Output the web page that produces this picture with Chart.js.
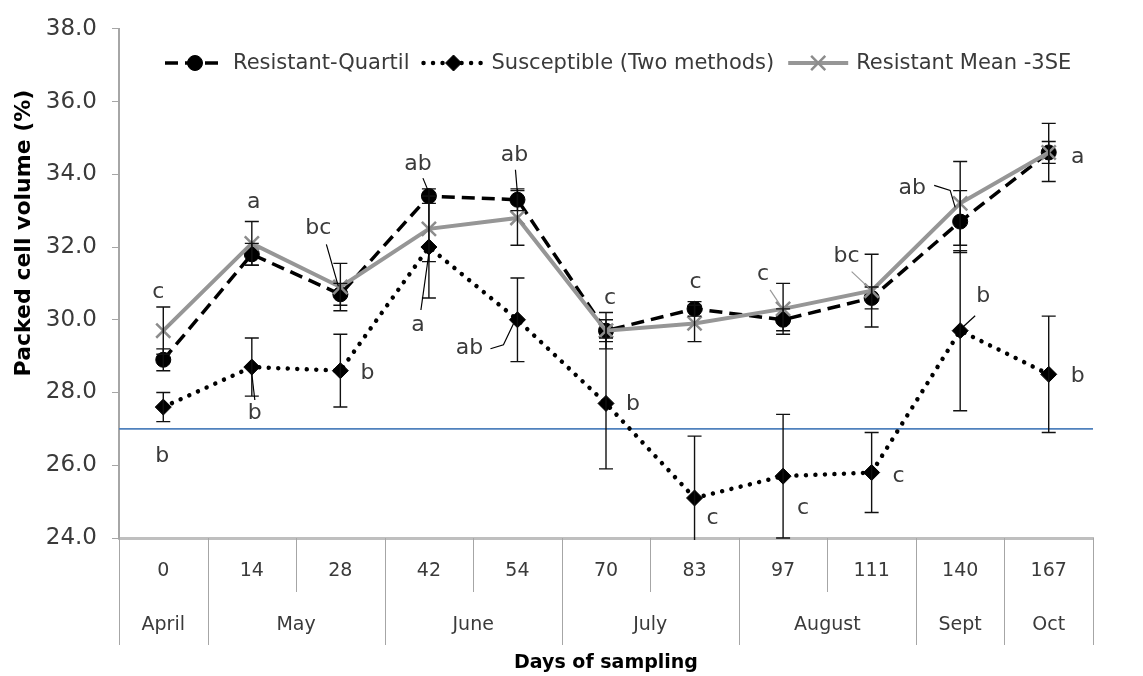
<!DOCTYPE html>
<html>
<head>
<meta charset="utf-8">
<script src="https://cdn.jsdelivr.net/npm/chart.js@4.4.1/dist/chart.umd.min.js"></script>
<style>
  html, body { margin: 0; padding: 0; background: #fff; }
  #wrap { width: 1143px; height: 676px; position: relative; }
</style>
</head>
<body>
<div id="wrap"><canvas id="pcvChart" width="1143" height="676"></canvas></div>
<script>
// Days of sampling and the month each sample falls in
const days = ['0', '14', '28', '42', '54', '70', '83', '97', '111', '140', '167'];
const months = ['April', 'May', 'June', 'July', 'August', 'Sept', 'Oct'];
const monthSpan = [1, 2, 2, 2, 2, 1, 1];

// Packed cell volume (%) per group
const resistantQuartil = [28.9, 31.8, 30.7, 33.4, 33.3, 29.7, 30.3, 30.0, 30.6, 32.7, 34.6];
const susceptible      = [27.6, 28.7, 28.6, 32.0, 30.0, 27.7, 25.1, 25.7, 25.8, 29.7, 28.5];
const resistantMean3SE = [29.7, 32.1, 30.9, 32.5, 32.8, 29.7, 29.9, 30.3, 30.8, 33.2, 34.6];

// Standard errors (drawn as +/- bars)
const quartilErr     = [0.3, 0.3, 0.3, 0.2, 0.3, 0.3, 0.2, 0.3, 0.3, 0.85, 0.3];
const susceptibleErr = [0.4, 0.8, 1.0, 1.4, 1.15, 1.8, 1.7, 1.7, 1.1, 2.2, 1.6];
const meanErr        = [0.65, 0.6, 0.65, 0.9, 0.75, 0.5, 0.5, 0.7, 1.0, 1.15, 0.8];

// Significance letters for each group
const quartilLetters     = ['c', 'a', 'bc', 'ab', 'ab', 'c', 'c', 'c', 'bc', 'ab', 'a'];
const susceptibleLetters = ['b', 'b', 'b', 'a', 'ab', 'b', 'c', 'c', 'c', 'b', 'b'];

// Threshold line
const threshold = 27.0;

const FONT = "'DejaVu Sans', 'Noto Sans', sans-serif";
const TEXT = '#3a3a3a';

// where each letter sits relative to its point: [dataset, dx, dy, leader, leaderColor]
const upperPlace = [
    [2, -5, -38], [2, 2, -41], [0, -22, -66, [-14, -50, -2, -8]], [0, -11, -32, [-6, -18, -1, -6]],
    [0, -3, -44, [-2, -30, 0, -6]], [0, 4, -32], [0, 1, -27], [2, -20, -35, [-13, -19, -3, -4], '#999'],
    [2, -25, -34, [-20, -19, -3, -3], '#999'], [2, -48, -15, [-26, -18, -10, -13, -5, 4]], [0, 29, 5]
];
const lowerPlace = [
    [-1, 49], [3, 46, [0, 7, 3, 33]], [27, 3], [-11, 78, [0, 6, -8, 63]], [-48, 29, [-27, 29, -14, 25, -4, 4]],
    [27, 1], [18, 20], [20, 32], [27, 4], [23, -34, [15, -15, 3, -4]], [29, 2]
];

function drawLeader(ctx, x, y, pts, color) {
    ctx.save();
    ctx.strokeStyle = color || '#000';
    ctx.lineWidth = 1.2;
    ctx.beginPath();
    ctx.moveTo(x + pts[0], y + pts[1]);
    for (let i = 2; i < pts.length; i += 2) ctx.lineTo(x + pts[i], y + pts[i + 1]);
    ctx.stroke();
    ctx.restore();
}

const extrasPlugin = {
    id: 'extras',
    beforeDatasetsDraw(chart) {
        const { ctx, chartArea, scales } = chart;
        // threshold line
        const y = scales.y.getPixelForValue(threshold);
        ctx.save();
        ctx.strokeStyle = '#4f81bd';
        ctx.lineWidth = 1.6;
        ctx.beginPath();
        ctx.moveTo(chartArea.left, y);
        ctx.lineTo(chartArea.right, y);
        ctx.stroke();
        ctx.restore();
    },
    afterDatasetsDraw(chart) {
        const { ctx, chartArea, scales } = chart;
        // error bars
        ctx.save();
        ctx.beginPath();
        ctx.rect(chartArea.left, chartArea.top, chartArea.right - chartArea.left, chartArea.bottom - chartArea.top + 2);
        ctx.clip();
        ctx.strokeStyle = '#111';
        ctx.lineWidth = 1.4;
        chart.data.datasets.forEach(ds => {
            ds.data.forEach((v, i) => {
                const x = scales.x.getPixelForValue(i);
                const yHi = scales.y.getPixelForValue(v + ds.errors[i]);
                const yLo = scales.y.getPixelForValue(v - ds.errors[i]);
                ctx.beginPath();
                ctx.moveTo(x, yHi); ctx.lineTo(x, yLo);
                ctx.moveTo(x - 7, yHi); ctx.lineTo(x + 7, yHi);
                ctx.moveTo(x - 7, yLo); ctx.lineTo(x + 7, yLo);
                ctx.stroke();
            });
        });
        ctx.restore();

        // significance letters
        ctx.save();
        ctx.font = '22px ' + FONT;
        ctx.fillStyle = TEXT;
        ctx.textAlign = 'center';
        ctx.textBaseline = 'middle';
        const sets = chart.data.datasets;
        upperPlace.forEach((p, i) => {
            const px = scales.x.getPixelForValue(i);
            const py = scales.y.getPixelForValue(sets[p[0]].data[i]);
            if (p[3]) drawLeader(ctx, px, py, p[3], p[4]);
            ctx.fillText(quartilLetters[i], px + p[1], py + p[2]);
        });
        lowerPlace.forEach((p, i) => {
            const px = scales.x.getPixelForValue(i);
            const py = scales.y.getPixelForValue(susceptible[i]);
            if (p[2]) drawLeader(ctx, px, py, p[2]);
            ctx.fillText(susceptibleLetters[i], px + p[0], py + p[1]);
        });
        ctx.restore();
    },
    afterDraw(chart) {
        const { ctx, chartArea, scales } = chart;
        const xs = scales.x;
        const bottom = chartArea.bottom;
        const sepX = i => i === 0 ? chartArea.left
            : i >= days.length ? chartArea.right
            : (xs.getPixelForValue(i - 1) + xs.getPixelForValue(i)) / 2;

        // month boundaries
        const starts = [];
        let acc = 0;
        monthSpan.forEach(n => { starts.push(acc); acc += n; });
        starts.push(acc);

        ctx.save();
        ctx.strokeStyle = '#a6a6a6';
        ctx.lineWidth = 1;
        for (let i = 0; i <= days.length; i++) {
            const x = Math.round(sepX(i)) + 0.5;
            const full = starts.includes(i);
            ctx.beginPath();
            ctx.moveTo(x, bottom);
            ctx.lineTo(x, full ? 645 : 592);
            ctx.stroke();
        }
        ctx.font = '19px ' + FONT;
        ctx.fillStyle = TEXT;
        ctx.textAlign = 'center';
        ctx.textBaseline = 'middle';
        months.forEach((m, k) => {
            const cx = (sepX(starts[k]) + sepX(starts[k + 1])) / 2;
            ctx.fillText(m, cx, 625);
        });

        // y axis title
        ctx.save();
        ctx.translate(24, 233);
        ctx.rotate(-Math.PI / 2);
        ctx.font = 'bold 22px ' + FONT;
        ctx.fillStyle = '#000';
        ctx.fillText('Packed cell volume (%)', 0, 0);
        ctx.restore();

        // legend
        const items = [
            { text: 'Resistant-Quartil', ds: 0 },
            { text: 'Susceptible (Two methods)', ds: 1 },
            { text: 'Resistant Mean -3SE', ds: 2 }
        ];
        ctx.font = '21px ' + FONT;
        ctx.textAlign = 'left';
        let lx = 165;
        const ly = 63;
        items.forEach(it => {
            const ds = chart.data.datasets[it.ds];
            ctx.save();
            ctx.strokeStyle = ds.borderColor;
            ctx.lineWidth = ds.borderWidth;
            ctx.lineCap = ds.borderCapStyle || 'butt';
            ctx.setLineDash(ds.borderDash || []);
            ctx.beginPath();
            ctx.moveTo(lx, ly); ctx.lineTo(lx + 60, ly);
            ctx.stroke();
            ctx.restore();
            ctx.save();
            ctx.fillStyle = ds.pointBackgroundColor;
            ctx.strokeStyle = ds.pointBorderColor;
            ctx.lineWidth = ds.pointBorderWidth || 1;
            Chart.helpers.drawPoint(ctx, {
                pointStyle: ds.pointStyle, radius: ds.pointRadius, rotation: 0,
                borderWidth: ds.pointBorderWidth || 1
            }, lx + 30, ly);
            ctx.restore();
            ctx.fillStyle = TEXT;
            ctx.fillText(it.text, lx + 68, ly + 1);
            lx += 68 + ctx.measureText(it.text).width + 14;
        });
        ctx.restore();
    }
};

const ctx = document.getElementById('pcvChart').getContext('2d');
const pcvChart = new Chart(ctx, {
    type: 'line',
    data: {
        labels: days,
        datasets: [
            {
                label: 'Resistant-Quartil',
                data: resistantQuartil,
                errors: quartilErr,
                borderColor: '#000',
                borderWidth: 3.5,
                borderDash: [13, 7],
                pointStyle: 'circle',
                pointRadius: 7.5,
                pointBackgroundColor: '#000',
                pointBorderColor: '#000',
                pointBorderWidth: 1,
                order: 2
            },
            {
                label: 'Susceptible (Two methods)',
                data: susceptible,
                errors: susceptibleErr,
                borderColor: '#000',
                borderWidth: 4.5,
                borderDash: [0.01, 9.5],
                borderCapStyle: 'round',
                pointStyle: 'rectRot',
                pointRadius: 8,
                pointBackgroundColor: '#000',
                pointBorderColor: '#000',
                pointBorderWidth: 1,
                order: 3
            },
            {
                label: 'Resistant Mean -3SE',
                data: resistantMean3SE,
                errors: meanErr,
                borderColor: '#969696',
                borderWidth: 4,
                pointStyle: 'crossRot',
                pointRadius: 10,
                pointBackgroundColor: '#8c8c8c',
                pointBorderColor: '#8c8c8c',
                pointBorderWidth: 2.5,
                order: 1
            }
        ]
    },
    options: {
        responsive: false,
        animation: false,
        layout: { padding: { left: 0, right: 50, top: 19, bottom: 0 } },
        elements: { line: { tension: 0 } },
        plugins: {
            legend: { display: false },
            tooltip: { enabled: false }
        },
        scales: {
            x: {
                offset: true,
                grid: { display: false, drawTicks: false },
                border: { display: true, color: '#bfbfbf', width: 3 },
                ticks: { font: { family: FONT, size: 19 }, color: TEXT, padding: 22, maxRotation: 0 },
                title: {
                    display: true,
                    text: 'Days of sampling',
                    font: { family: FONT, size: 19, weight: 'bold' },
                    color: '#000',
                    padding: { top: 0, bottom: 2 }
                },
                afterFit(scale) { scale.height = 138; }
            },
            y: {
                min: 24,
                max: 38,
                ticks: {
                    stepSize: 2,
                    font: { family: FONT, size: 23 },
                    color: TEXT,
                    padding: 15,
                    callback: v => v.toFixed(1)
                },
                grid: { drawOnChartArea: false, tickLength: 7, color: '#a6a6a6' },
                border: { display: true, color: '#a6a6a6', width: 2 },
                afterFit(scale) { scale.width = 119; }
            }
        }
    },
    plugins: [extrasPlugin]
});
</script>
</body>
</html>
